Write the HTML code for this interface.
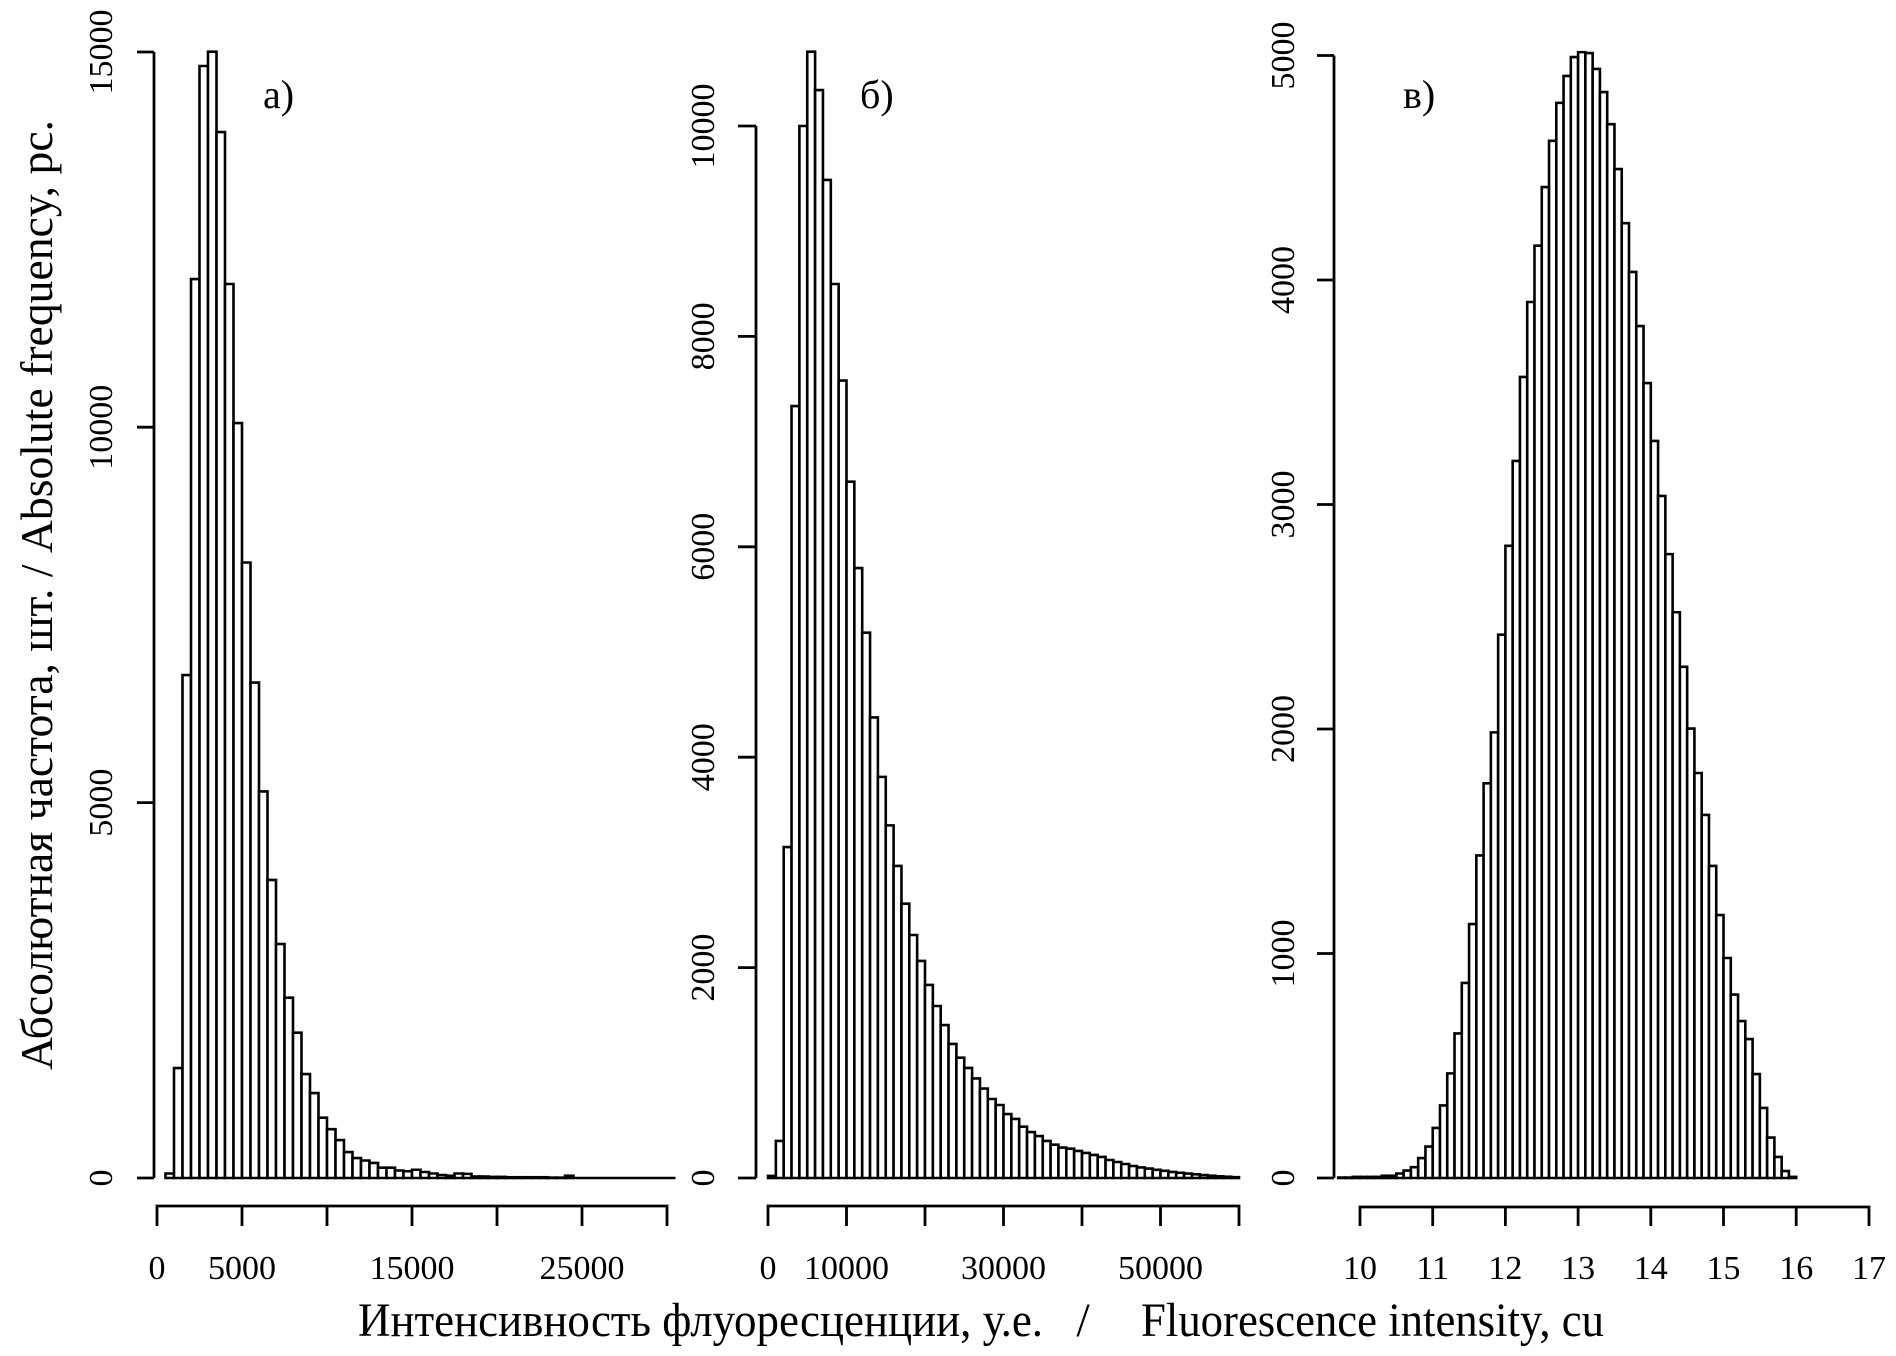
<!DOCTYPE html>
<html><head><meta charset="utf-8"><style>
html,body{margin:0;padding:0;background:#fff;}
svg{display:block;}
text{font-family:"Liberation Serif","DejaVu Serif",serif;fill:#000;}
</style></head><body>
<svg id="s" width="1896" height="1356" viewBox="0 0 1896 1356" xmlns="http://www.w3.org/2000/svg">
<g id="bars" fill="#fff" stroke="#000" stroke-width="2.6"></g>
<g stroke="#000" stroke-width="2.8" fill="none">
<path d="M154 1178 V52 M137 1178 H154 M137 802.6 H154 M137 427.2 H154 M137 52 H154"/>
<path d="M157 1226 V1206 H667 V1226 M242 1206 V1226 M327 1206 V1226 M412 1206 V1226 M497 1206 V1226 M582 1206 V1226"/>
<path d="M756 1178 V126 M738 1178 H756 M738 967.6 H756 M738 757.2 H756 M738 546.8 H756 M738 336.4 H756 M738 126 H756"/>
<path d="M768 1226 V1206 H1239 V1226 M846.5 1206 V1226 M925 1206 V1226 M1003.5 1206 V1226 M1082 1206 V1226 M1160.5 1206 V1226"/>
<path d="M1334 1178 V55.5 M1317 1178 H1334 M1317 953.5 H1334 M1317 729 H1334 M1317 504.5 H1334 M1317 280 H1334 M1317 55.5 H1334"/>
<path d="M1360 1226 V1207 H1869 V1226 M1432.7 1207 V1226 M1505.4 1207 V1226 M1578.1 1207 V1226 M1650.8 1207 V1226 M1723.5 1207 V1226 M1796.2 1207 V1226"/>
</g>
<g font-size="34" text-anchor="middle">
<text transform="translate(112,1178) rotate(-90)">0</text>
<text transform="translate(112,802.6) rotate(-90)">5000</text>
<text transform="translate(112,427.2) rotate(-90)">10000</text>
<text transform="translate(112,52) rotate(-90)">15000</text>
<text transform="translate(714,1178) rotate(-90)">0</text>
<text transform="translate(714,967.6) rotate(-90)">2000</text>
<text transform="translate(714,757.2) rotate(-90)">4000</text>
<text transform="translate(714,546.8) rotate(-90)">6000</text>
<text transform="translate(714,336.4) rotate(-90)">8000</text>
<text transform="translate(714,126) rotate(-90)">10000</text>
<text transform="translate(1294,1178) rotate(-90)">0</text>
<text transform="translate(1294,953.5) rotate(-90)">1000</text>
<text transform="translate(1294,729) rotate(-90)">2000</text>
<text transform="translate(1294,504.5) rotate(-90)">3000</text>
<text transform="translate(1294,280) rotate(-90)">4000</text>
<text transform="translate(1294,55.5) rotate(-90)">5000</text>
<text x="157" y="1279">0</text><text x="242" y="1279">5000</text><text x="412" y="1279">15000</text><text x="582" y="1279">25000</text>
<text x="768" y="1279">0</text><text x="846.5" y="1279">10000</text><text x="1003.5" y="1279">30000</text><text x="1160.5" y="1279">50000</text>
<text x="1360" y="1279">10</text><text x="1432.7" y="1279">11</text><text x="1505.4" y="1279">12</text><text x="1578.1" y="1279">13</text><text x="1650.8" y="1279">14</text><text x="1723.5" y="1279">15</text><text x="1796.2" y="1279">16</text><text x="1869" y="1279">17</text>
</g>
<g font-size="40">
<text x="263" y="108">а)</text>
<text x="860" y="108">б)</text>
<text x="1403" y="108">в)</text>
</g>
<text transform="translate(52,1070) rotate(-90)" font-size="46" textLength="950" lengthAdjust="spacingAndGlyphs">Абсолютная частота, шт. / Absolute frequency, pc.</text>
<text x="358" y="1336" font-size="48" textLength="685" lengthAdjust="spacingAndGlyphs">Интенсивность флуоресценции, у.е.</text>
<text x="1083" y="1336" font-size="48" text-anchor="middle">/</text>
<text x="1141" y="1336" font-size="48" textLength="463" lengthAdjust="spacingAndGlyphs">Fluorescence intensity, cu</text>
</svg>
<script>
(function(){
var g=document.getElementById('bars'),NS='http://www.w3.org/2000/svg';
function draw(x0,w,k,arr){
 for(var i=0;i<arr.length;i++){
  var h=arr[i]*k,x=x0+i*w,y=1178-h,p=document.createElementNS(NS,'path');
  p.setAttribute('d','M'+x+' 1178 V'+y+' H'+(x+w)+' V1178 Z');
  g.appendChild(p);
 }
}
var a=[60,1465,6700,11975,14813,15003,13933,11909,10057,8199,6600,5150,3970,3117,2402,1936,1385,1132,803,650,506,346,266,233,200,137,137,100,90,110,80,60,40,30,60,55,20,20,15,15,10,10,10,10,10,5,5,30,0,0,0,0,0,0,0,0,0,0,0,0];
draw(165.5,8.5,0.07507,a);
var b=[20,352,3146,7338,10000,10706,10342,9487,8498,7580,6619,5798,5184,4378,3813,3352,2966,2608,2310,2063,1835,1635,1454,1274,1144,1046,946,850,751,694,608,561,488,437,399,352,317,289,279,257,238,219,200,171,152,133,114,100,90,78,68,58,50,42,35,28,22,16,12,8];
draw(768,7.85,0.1052,b);
var c=[2,2,5,5,5,5,10,10,20,33,48,89,140,223,323,466,644,869,1131,1437,1758,1985,2420,2816,3194,3568,3902,4153,4414,4620,4789,4909,4993,5015,5011,4940,4837,4694,4494,4253,4036,3795,3541,3283,3038,2779,2520,2277,2002,1804,1617,1390,1171,980,817,699,619,463,312,180,94,31,5];
draw(1338.2,7.27,0.2245,c);
})();
</script>
</body></html>
